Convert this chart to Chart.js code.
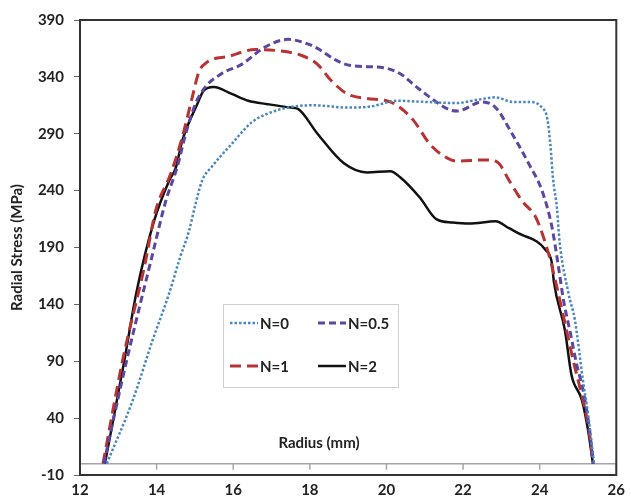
<!DOCTYPE html>
<html>
<head>
<meta charset="utf-8">
<script src="https://cdn.jsdelivr.net/npm/chart.js@4.4.1/dist/chart.umd.min.js"></script>
<style>
  html, body { margin: 0; padding: 0; background: #fff; }
  #wrap { position: relative; width: 631px; height: 498px; }
</style>
</head>
<body>
<div id="wrap"><canvas id="chart-stress"></canvas></div>
<script>
// tick labels
var xTicks = [12, 14, 16, 18, 20, 22, 24, 26]
var yTicks = [-10, 40, 90, 140, 190, 240, 290, 340, 390]

// N=0 (dotted)
var n0Radius = [12.7, 13.38, 13.89, 14.33, 14.6, 14.85, 15.0, 15.19, 15.44, 15.96, 16.48, 17.0, 17.6, 18.12, 18.98, 19.6, 20.27, 21.0, 21.82, 22.4, 22.85, 23.3, 23.71, 24.06, 24.2, 24.28, 24.35, 24.45, 24.52, 24.75, 24.92, 25.13, 25.26, 25.42]
var n0Stress = [0, 56, 108, 150, 180, 205, 226, 249, 261, 281, 300, 309, 314, 315, 313, 314, 319, 318, 317, 320, 322, 318, 318, 313, 303, 280, 250, 225, 195, 150, 126, 73, 44, 0]

// N=0.5
var n05Radius = [12.62, 13.2, 13.9, 14.24, 14.54, 14.76, 15.01, 15.27, 15.7, 16.22, 16.82, 17.43, 17.94, 18.2, 18.72, 19.06, 19.92, 20.35, 20.79, 21.3, 21.65, 21.85, 22.5, 22.85, 23.28, 23.71, 24.06, 24.32, 24.49, 24.62, 24.8, 24.96, 25.13, 25.3, 25.4]
var n05Stress = [0, 88, 185, 231, 261, 290, 316, 331, 343, 351, 366, 373, 369, 365, 354, 350, 348, 343, 331, 318, 311, 310, 318, 313, 290, 264, 240, 208, 173, 144, 115, 88, 65, 30, 0]

// N=1
var n1Radius = [12.6, 13.12, 13.68, 13.98, 14.37, 14.67, 14.93, 15.1, 15.32, 15.88, 16.57, 17.17, 17.77, 18.2, 18.55, 18.98, 19.49, 20.0, 20.27, 20.7, 21.13, 21.47, 21.82, 22.6, 22.9, 23.2, 23.54, 23.89, 24.1, 24.3, 24.45, 24.65, 24.88, 25.1, 25.27, 25.4]
var n1Stress = [0, 92, 173, 223, 255, 287, 322, 344, 353, 358, 364, 363, 359, 351, 337, 325, 321, 319, 315, 302, 281, 271, 266, 267, 265, 249, 231, 217, 199, 176, 155, 125, 90, 60, 33, 0]

// N=2
var n2Radius = [12.65, 13.16, 13.47, 13.94, 14.33, 14.5, 14.67, 15.06, 15.23, 15.49, 15.96, 16.39, 16.9, 17.51, 17.68, 18.2, 18.89, 19.49, 20.1, 20.35, 20.87, 21.3, 21.73, 22.16, 22.85, 23.2, 23.54, 23.89, 24.15, 24.32, 24.37, 24.66, 24.83, 25.1, 25.26, 25.39]
var n2Stress = [0, 91, 150, 214, 249, 260, 284, 316, 328, 331, 325, 319, 316, 313, 312, 290, 264, 256, 257, 252, 234, 215, 212, 211, 213, 207, 201, 196, 188, 176, 160, 117, 78, 56, 30, 0]

var FONT = 'Lato, "Open Sans", sans-serif'

function pts(xs, ys) {
  return xs.map(function (x, i) { return { x: x, y: ys[i] } })
}

// frame, zero line, x title and the boxed legend inside the plot
var plotExtras = {
  id: 'plotExtras',
  beforeDatasetsDraw: function (chart) {
    var ctx = chart.ctx, sx = chart.scales.x, sy = chart.scales.y
    var y0 = sy.getPixelForValue(0)
    ctx.save()
    ctx.strokeStyle = '#a6a6a6'
    ctx.lineWidth = 1.5
    ctx.beginPath()
    ctx.moveTo(chart.chartArea.left, y0)
    ctx.lineTo(chart.chartArea.right, y0)
    xTicks.forEach(function (v) {
      var px = sx.getPixelForValue(v)
      ctx.moveTo(px, y0)
      ctx.lineTo(px, y0 + 6)
    })
    ctx.stroke()

    ctx.fillStyle = '#222'
    ctx.font = 'bold 15px ' + FONT
    ctx.textAlign = 'center'
    ctx.textBaseline = 'middle'
    ctx.fillText('Radius (mm)', chart.chartArea.left + 239, chart.chartArea.bottom - 32)
    ctx.restore()
  },
  afterDraw: function (chart) {
    var ctx = chart.ctx, a = chart.chartArea
    ctx.save()
    ctx.strokeStyle = '#333'
    ctx.lineWidth = 2
    ctx.strokeRect(a.left, a.top, a.right - a.left, a.bottom - a.top)

    // legend box
    var bx = a.left + 143, by = a.top + 284, bw = 175, bh = 83
    ctx.fillStyle = '#fff'
    ctx.fillRect(bx, by, bw, bh)
    ctx.strokeStyle = '#d0d0d0'
    ctx.lineWidth = 1
    ctx.strokeRect(bx + 0.5, by + 0.5, bw, bh)

    var slots = [[7, 19], [95, 19], [7, 62], [95, 62]]
    chart.data.datasets.forEach(function (ds, k) {
      var sx = bx + slots[k][0], sy = by + slots[k][1]
      ctx.beginPath()
      ctx.setLineDash(ds.borderDash || [])
      ctx.strokeStyle = ds.borderColor
      ctx.lineWidth = ds.borderWidth
      ctx.moveTo(sx, sy)
      ctx.lineTo(sx + 28, sy)
      ctx.stroke()
      ctx.setLineDash([])
      ctx.fillStyle = '#222'
      ctx.font = 'bold 15px ' + FONT
      ctx.textAlign = 'left'
      ctx.textBaseline = 'middle'
      ctx.fillText(ds.label, sx + 30, sy + 1)
    })
    ctx.restore()
  }
}

new Chart(document.getElementById('chart-stress'), {
  type: 'line',
  data: {
    datasets: [
      { label: 'N=0', data: pts(n0Radius, n0Stress), borderColor: '#4a86c0', borderWidth: 2.5, borderDash: [2.5, 2] },
      { label: 'N=0.5', data: pts(n05Radius, n05Stress), borderColor: '#5c46a0', borderWidth: 3, borderDash: [7, 4] },
      { label: 'N=1', data: pts(n1Radius, n1Stress), borderColor: '#b83333', borderWidth: 3, borderDash: [11, 6] },
      { label: 'N=2', data: pts(n2Radius, n2Stress), borderColor: '#111', borderWidth: 2.5 }
    ]
  },
  options: {
    responsive: true,
    maintainAspectRatio: false,
    animation: false,
    layout: { padding: { top: 20, right: 9, left: 0, bottom: 0 } },
    elements: {
      point: { radius: 0 },
      line: { cubicInterpolationMode: 'monotone', fill: false }
    },
    plugins: {
      legend: { display: false },
      tooltip: { enabled: false }
    },
    scales: {
      x: {
        type: 'linear',
        min: 12,
        max: 26,
        afterBuildTicks: function (s) { s.ticks = xTicks.map(function (v) { return { value: v } }) },
        afterFit: function (s) { s.height = 23 },
        grid: { display: false, drawTicks: false },
        border: { display: false },
        ticks: { padding: 6, color: '#222', font: { family: FONT, size: 15, weight: 'bold' } }
      },
      y: {
        type: 'linear',
        min: -10,
        max: 390,
        afterBuildTicks: function (s) { s.ticks = yTicks.map(function (v) { return { value: v } }) },
        afterFit: function (s) { s.width = 80 },
        grid: { drawOnChartArea: false, tickLength: 6, color: '#666' },
        border: { display: false },
        ticks: { padding: 10, color: '#222', font: { family: FONT, size: 15, weight: 'bold' } },
        title: {
          display: true,
          text: 'Radial Stress (MPa)',
          color: '#222',
          padding: { top: 8, bottom: 0 },
          font: { family: FONT, size: 15, weight: 'bold' }
        }
      }
    }
  },
  plugins: [plotExtras]
})
</script>
</body>
</html>
